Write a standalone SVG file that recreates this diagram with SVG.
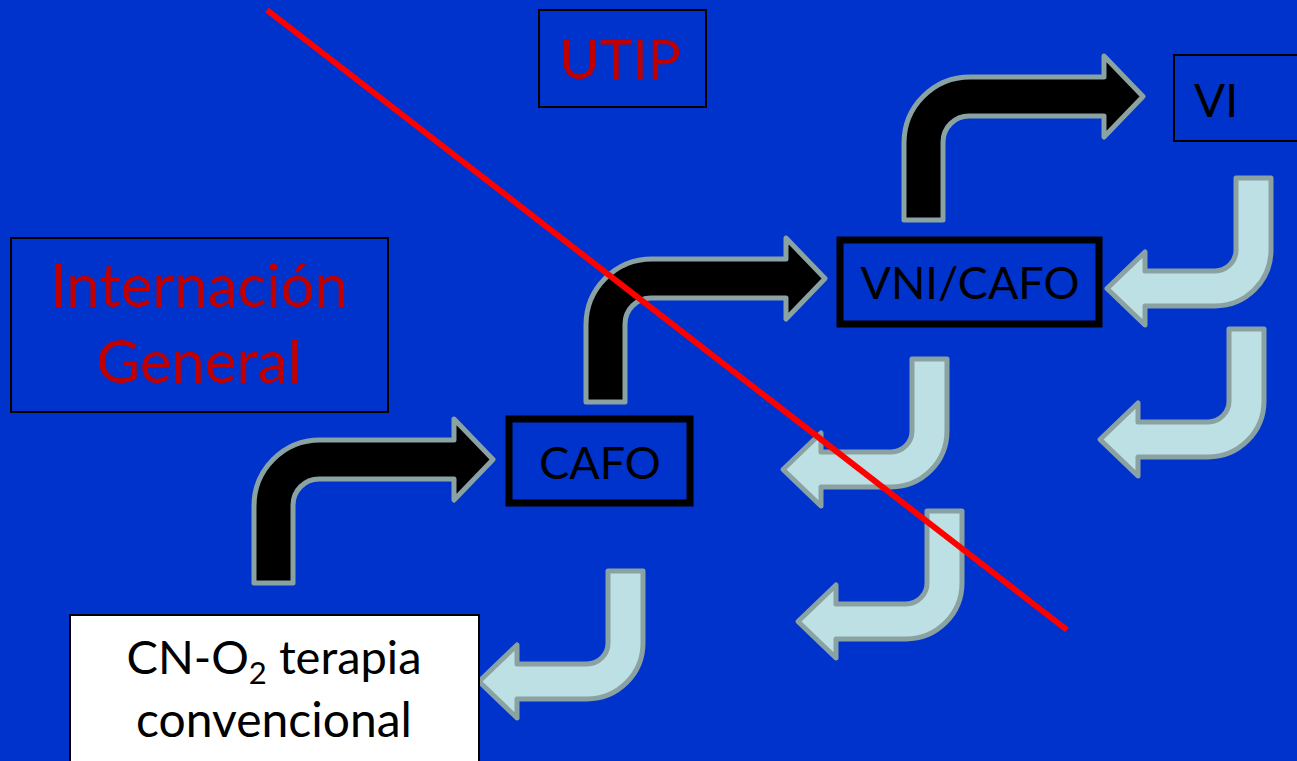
<svg xmlns="http://www.w3.org/2000/svg" width="1297" height="761" viewBox="0 0 1297 761">
<style>
.txt{font-family:Lato,"Liberation Sans","DejaVu Sans",sans-serif;}
.blk{fill:#000000;}
.red{fill:#C00000;}
.thin{fill:none;stroke:#000000;stroke-width:2;}
.thick{fill:none;stroke:#000000;stroke-width:7;}
.darr{fill:#000000;stroke:#8AA2A2;stroke-width:5;stroke-linejoin:round;}
.larr{fill:#BCE0E3;stroke:#8AA2A2;stroke-width:5;stroke-linejoin:round;}
</style>
<defs>
<path id="bent" d="M2,145 L2,68 A66,66 0 0 1 68,2 L202,2 L202,-19 L241,21.5 L202,62 L202,41 L67,41 A26,26 0 0 0 41,67 L41,145 Z"/>
<path id="ret" d="M-2,2 L-2,74 A56,56 0 0 1 -58,130 L-128,130 L-128,149 L-166,112.5 L-128,76 L-128,95 L-58,95 A21,21 0 0 0 -37,74 L-37,2 Z"/>
</defs>
<rect x="0" y="0" width="1297" height="761" fill="#0033CC"/>

<g id="connectors">
<use href="#bent" class="darr" transform="translate(252,438)"/>
<use href="#bent" class="darr" transform="translate(584,257)"/>
<use href="#bent" class="darr" transform="translate(902,75)"/>
<use href="#ret" class="larr" transform="translate(1273,176)"/>
<use href="#ret" class="larr" transform="translate(1266,327)"/>
<use href="#ret" class="larr" transform="translate(949,357)"/>
<use href="#ret" class="larr" transform="translate(964,509)"/>
<use href="#ret" class="larr" transform="translate(645,569)"/>
</g>

<g id="utip">
<rect x="539" y="10" width="167" height="97" class="thin"/>
<text x="620" y="79" text-anchor="middle" class="txt red" font-size="55">UTIP</text>
</g>

<g id="vi">
<rect x="1174" y="55" width="130" height="86" class="thin"/>
<text x="1194" y="117" class="txt blk" font-size="46">VI</text>
</g>

<g id="internacion">
<rect x="11" y="238" width="377" height="174" class="thin"/>
<text x="199" y="307" text-anchor="middle" class="txt red" font-size="60">Internación</text>
<text x="199" y="383" text-anchor="middle" class="txt red" font-size="60">General</text>
</g>

<g id="vnicafo">
<rect x="840" y="240" width="259" height="84" class="thick"/>
<text x="970" y="299" text-anchor="middle" class="txt blk" font-size="45">VNI/CAFO</text>
</g>

<g id="cafo">
<rect x="509" y="419" width="181" height="84" class="thick"/>
<text x="600" y="479" text-anchor="middle" class="txt blk" font-size="45">CAFO</text>
</g>

<g id="cno2">
<rect x="70" y="615" width="409" height="160" fill="#FFFFFF" stroke="#000000" stroke-width="2"/>
<text x="274" y="674" text-anchor="middle" class="txt blk" font-size="47">CN-O<tspan dy="10" font-size="31">2</tspan><tspan dy="-10"> terapia</tspan></text>
<text x="274" y="737" text-anchor="middle" class="txt blk" font-size="48">convencional</text>
</g>

<line x1="267" y1="10" x2="1067" y2="630" stroke="#FF0000" stroke-width="6"/>
</svg>
